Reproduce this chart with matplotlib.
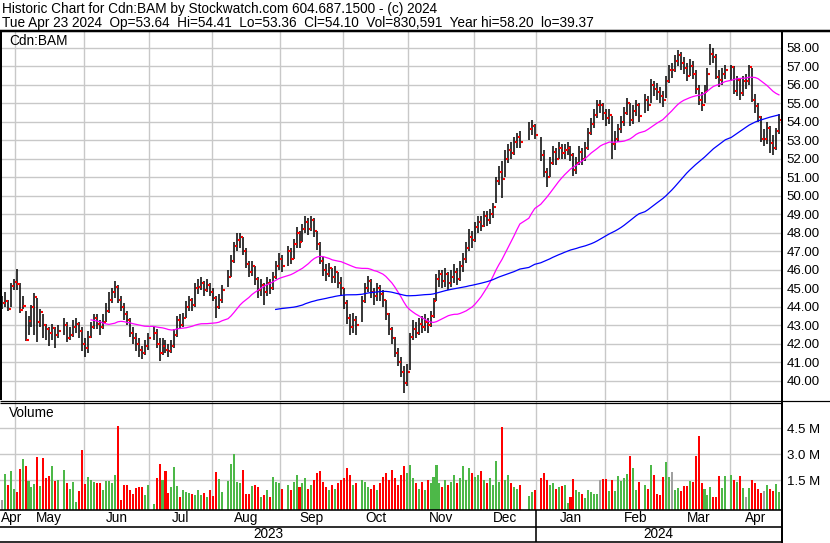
import matplotlib
matplotlib.use("Agg")
import matplotlib.pyplot as plt
import matplotlib.transforms as mtransforms
from matplotlib.lines import Line2D
import numpy as np
import pandas as pd

plt.rcParams['font.family'] = ['Liberation Sans', 'DejaVu Sans']
plt.rcParams['font.size'] = 9

# one slot per weekday, None where the exchange was closed
days = pd.bdate_range("2023-04-24", "2024-04-23")

highs = [
    44.6, 44.8, 44.4, 45.3, 45.5,
    46.05, 45.3, 44.6, 43.8, 43.5,
    44.1, 44.75, 44.5, 43.9, 43.6,
    43.1, 42.9, 43.1, 42.9, 43.0,
    None, 43.4, 43.2, 42.9, 43.3,
    43.4, 43.2, 42.9, 42.3, 42.7,
    43.2, 43.6, 43.6, 43.3, 43.6,
    44.2, 44.8, 45.0, 45.4, 45.2,
    44.6, 44.2, 43.8, 43.4, 42.9,
    42.6, 42.3, 41.9, 42.2, 42.6,
    None, 42.9, 42.8, 42.3, 42.3,
    42.2, 42.0, 42.2, 42.8, 43.5,
    43.6, 43.7, 44.3, 44.6, 44.5,
    45.3, 45.5, 45.6, 45.4, 45.5,
    45.3, 45.0, 44.6, 44.7, 45.2,
    None, 46.0, 46.8, 47.5, 48.0,
    48.0, 47.8, 47.2, 46.5, 46.5,
    46.2, 45.6, 45.5, 45.3, 45.6,
    45.5, 45.9, 46.5, 46.9, 46.8,
    None, 47.3, 47.2, 47.7, 48.3,
    48.1, 48.5, 48.9, 48.8, 48.9,
    48.8, 48.1, 47.5, 46.7, 46.3,
    46.4, 46.1, 46.2, 45.9, 45.6,
    45.0, 44.4, 43.6, 43.7, 43.5,
    None, 44.6, 45.3, 45.7, 45.5,
    45.0, 45.3, 45.2, 44.9, 44.4,
    43.7, 42.9, 42.4, 41.8, 41.3,
    40.8, 40.9, 42.6, 43.3, 43.2,
    43.4, 43.5, 43.6, 43.4, 43.8,
    44.5, 45.8, 46.0, 46.0, 46.1,
    45.9, 46.0, 46.3, 46.1, 46.5,
    46.9, 47.5, 48.2, 48.1, 48.6,
    48.9, 48.9, 49.2, 49.2, 49.3,
    49.6, 51.0, 51.6, 51.9, 52.5,
    52.8, 52.9, 53.2, 53.4, 53.5,
    None, None, 54.0, 54.1, 53.9,
    None, 53.2, 52.5, 51.5, 52.1,
    52.7, 52.6, 52.9, 52.8, 52.8,
    52.9, 52.7, 52.3, 52.1, 52.7,
    52.6, 52.9, 53.7, 54.2, 54.7,
    55.2, 55.2, 55.0, 54.7, 54.7,
    54.3, 53.5, 53.9, 54.3, 54.8,
    55.3, 55.0, 54.9, 55.2, 55.0,
    None, 55.5, 55.4, 56.3, 56.2,
    56.1, 55.9, 55.7, 56.5, 57.1,
    57.2, 57.6, 57.9, 57.8, 57.5,
    57.2, 57.4, 57.3, 56.8, 56.0,
    55.6, 56.0, 56.9, 58.2, 58.0,
    57.7, 56.8, 56.9, 57.1, None,
    57.1, 57.0, 56.5, 56.4, 56.5,
    56.6, 57.1, 56.9, 55.5, 55.0,
    54.3, 53.6, 54.0, 53.8, 53.3,
    53.7, 54.41,
]

lows = [
    43.9, 44.0, 43.8, 44.0, 44.9,
    44.9, 43.7, 43.9, 42.15, 42.5,
    42.9, 42.5, 42.1, 42.9, 42.3,
    42.2, 41.9, 42.2, 41.8, 42.3,
    None, 42.5, 42.1, 42.2, 42.4,
    42.6, 42.3, 41.6, 41.3, 41.5,
    42.3, 42.8, 42.8, 42.5, 42.8,
    43.2, 43.7, 44.2, 44.5, 44.2,
    43.8, 43.3, 43.0, 42.4, 42.0,
    41.6, 41.3, 41.2, 41.4, 41.7,
    None, 42.2, 41.8, 41.1, 41.4,
    41.5, 41.3, 41.5, 41.8, 42.4,
    42.8, 42.9, 43.4, 43.8, 43.8,
    44.0, 44.7, 44.9, 44.6, 44.8,
    44.6, 44.3, 43.4, 43.9, 44.2,
    None, 45.1, 45.6, 46.4, 47.0,
    47.2, 46.8, 46.1, 45.6, 45.7,
    45.2, 44.5, 44.6, 44.1, 44.6,
    44.7, 44.9, 45.5, 46.0, 45.9,
    None, 46.2, 46.3, 46.6, 47.2,
    47.2, 47.5, 48.0, 47.9, 48.1,
    47.8, 47.1, 46.3, 45.7, 45.4,
    45.6, 45.3, 45.3, 45.0, 44.6,
    43.9, 43.1, 42.5, 42.6, 42.5,
    None, 43.2, 44.2, 44.8, 44.5,
    44.1, 44.3, 44.3, 44.0, 43.3,
    42.5, 42.0, 41.3, 40.8, 40.2,
    39.37, 39.7, 40.6, 42.2, 42.3,
    42.5, 42.6, 42.7, 42.6, 42.9,
    43.4, 44.3, 45.1, 45.0, 45.1,
    44.9, 45.1, 45.3, 45.2, 45.4,
    45.9, 46.4, 47.0, 47.2, 47.5,
    48.0, 48.1, 48.3, 48.4, 48.5,
    48.8, 49.6, 50.6, 49.9, 51.0,
    51.8, 52.0, 52.2, 52.6, 52.6,
    None, None, 53.0, 53.3, 53.1,
    None, 51.9, 51.0, 50.5, 51.0,
    51.7, 51.7, 52.0, 52.0, 52.0,
    52.2, 51.9, 51.1, 51.2, 51.7,
    51.7, 51.9, 52.5, 53.3, 53.7,
    54.2, 54.5, 54.1, 53.8, 53.9,
    52.0, 52.5, 52.9, 53.4, 53.8,
    54.4, 53.8, 53.9, 54.3, 54.0,
    None, 54.5, 54.6, 55.0, 55.4,
    55.2, 55.0, 54.8, 55.3, 56.1,
    56.4, 56.7, 57.0, 56.8, 56.6,
    56.2, 56.5, 56.3, 55.5, 54.9,
    54.6, 55.0, 55.6, 57.1, 57.2,
    56.3, 55.9, 56.0, 56.3, None,
    56.2, 55.5, 55.4, 55.2, 55.4,
    55.8, 56.0, 55.1, 54.5, 54.0,
    52.9, 52.7, 52.8, 52.3, 52.2,
    52.5, 53.36,
]

closes = [
    44.2, 44.3, 43.9, 45.15, 45.35,
    45.25, 43.85, 44.05, 42.2, 43.25,
    44.0, 44.55, 43.2, 43.75, 43.0,
    42.8, 42.6, 42.85, 42.5, 42.7,
    None, 43.0, 42.3, 42.5, 42.9,
    43.1, 42.7, 42.0, 41.8, 42.4,
    42.9, 43.4, 43.1, 42.9, 43.2,
    43.8, 44.4, 44.8, 45.1, 44.4,
    44.0, 43.6, 43.3, 42.6, 42.3,
    42.0, 41.7, 41.5, 41.9, 42.3,
    None, 42.6, 42.0, 41.5, 41.9,
    41.7, 41.6, 41.9, 42.5, 43.3,
    43.0, 43.4, 44.0, 44.35, 44.1,
    45.0, 45.1, 45.3, 44.9, 45.2,
    44.8, 44.5, 44.0, 44.4, 44.9,
    None, 45.6, 46.5, 47.3, 47.6,
    47.8, 47.0, 46.3, 45.9, 46.2,
    45.5, 44.9, 45.2, 44.8, 45.3,
    45.0, 45.6, 46.2, 46.6, 46.2,
    None, 47.0, 46.6, 47.4, 48.0,
    47.5, 48.2, 48.6, 48.2, 48.7,
    48.1, 47.4, 46.5, 46.0, 45.8,
    46.1, 45.6, 45.9, 45.3, 45.0,
    44.2, 43.4, 42.9, 43.3, 43.0,
    None, 44.3, 45.0, 45.4, 44.8,
    44.6, 45.0, 44.7, 44.4, 43.6,
    42.8, 42.3, 41.5, 41.0, 40.5,
    39.9, 40.5, 42.4, 42.8, 42.6,
    43.1, 42.9, 43.2, 43.0, 43.5,
    44.3, 45.5, 45.8, 45.4, 45.8,
    45.3, 45.6, 45.9, 45.5, 46.2,
    46.6, 47.2, 47.8, 47.6, 48.3,
    48.6, 48.4, 48.9, 48.7, 49.0,
    49.4, 50.8, 51.3, 50.9, 52.0,
    52.5, 52.3, 52.9, 53.2, 52.9,
    None, None, 53.6, 53.8, 53.3,
    None, 52.2, 51.3, 51.0, 51.8,
    52.4, 52.0, 52.6, 52.3, 52.5,
    52.6, 52.2, 51.4, 51.8, 52.4,
    52.0, 52.6, 53.4, 53.9, 54.4,
    54.9, 54.9, 54.5, 54.2, 54.4,
    52.8, 53.1, 53.6, 54.0, 54.5,
    55.0, 54.1, 54.6, 54.9, 54.3,
    None, 55.2, 54.9, 56.0, 55.8,
    55.6, 55.4, 55.2, 56.2, 56.8,
    56.8, 57.3, 57.6, 57.2, 56.9,
    56.5, 57.0, 56.6, 55.8, 55.2,
    54.9, 55.6, 56.6, 57.7, 57.5,
    56.45, 56.25, 56.6, 56.8, None,
    56.95, 55.7, 56.25, 55.55, 56.2,
    56.2, 56.95, 55.2, 54.85, 54.25,
    53.1, 53.1, 53.65, 52.85, 52.6,
    53.5, 54.1,
]

# millions of shares
volume = [
    0.35, 1.86, 1.22, 2.00, 0.99,
    0.83, 2.15, 2.73, 2.33, 1.45,
    1.10, 1.28, 2.85, 1.16, 2.79,
    1.63, 1.74, 2.33, 1.45, 1.51,
    None, 2.09, 1.34, 0.99, 1.40,
    0.23, 0.87, 3.26, 1.28, 1.69,
    1.51, 1.40, 1.34, 1.34, 0.93,
    1.45, 1.45, 1.34, 1.80, 4.65,
    0.35, 1.22, 1.22, 0.93, 0.70,
    1.05, 1.10, 1.10, 0.64, 1.22,
    None, 0.12, 1.63, 2.44, 1.51,
    2.03, 0.76, 1.10, 2.27, 1.16,
    0.52, 0.93, 0.81, 0.76, 0.70,
    0.64, 0.93, 0.64, 0.76, 0.52,
    0.93, 0.58, 1.98, 1.57, 0.81,
    None, 1.45, 2.44, 3.02, 1.40,
    1.34, 2.09, 0.70, 0.70, 1.16,
    1.22, 1.10, 0.52, 0.64, 0.93,
    0.52, 1.69, 1.40, 1.30, 1.00,
    None, 1.20, 0.90, 1.40, 1.80,
    1.10, 1.30, 1.60, 1.00, 1.20,
    1.50, 1.90, 2.00, 1.40, 1.10,
    0.90, 1.20, 1.00, 1.30, 1.50,
    1.60, 2.20, 1.80, 1.20, 1.30,
    None, 1.50, 1.40, 1.10, 1.00,
    1.20, 0.90, 1.30, 1.70, 1.90,
    1.50, 2.10, 1.60, 1.20, 1.80,
    2.30, 1.90, 2.40, 1.60, 1.30,
    1.00, 1.40, 0.90, 1.50, 1.30,
    1.70, 2.40, 1.30, 1.10, 1.50,
    1.20, 1.40, 1.80, 1.30, 1.60,
    2.30, 1.50, 2.20, 1.90, 1.70,
    1.80, 2.00, 1.50, 1.30, 1.60,
    1.20, 2.60, 1.40, 4.60, 1.50,
    1.80, 1.30, 1.10, 1.00, 1.20,
    None, None, 0.60, 0.80, 0.90,
    None, 1.60, 1.90, 1.50, 1.20,
    1.30, 1.00, 1.10, 1.16, 1.22,
    0.17, 0.52, 1.57, 0.93, 0.81,
    0.70, 0.47, 0.93, 0.81, 0.70,
    0.70, 1.51, 1.57, 1.57, 0.87,
    1.51, 0.87, 1.74, 1.45, 1.63,
    1.86, 2.91, 2.21, 0.93, 1.40,
    None, 1.22, 0.99, 2.38, 1.80,
    0.70, 0.64, 1.69, 2.56, 1.69,
    1.98, 0.93, 1.05, 0.87, 1.16,
    1.16, 1.45, 1.40, 2.91, 4.07,
    1.34, 0.99, 0.64, 1.10, 0.52,
    0.52, 1.74, 1.05, 1.74, None,
    1.80, 1.51, 1.40, 1.74, 1.05,
    0.52, 1.05, 1.51, 1.34, 0.99,
    0.76, 0.87, 1.22, 0.99, 0.87,
    1.28, 0.83,
]

price_ticks = list(range(40, 59))
vol_ticks = [1.5, 3.0, 4.5]

header1 = "Historic Chart for Cdn:BAM by Stockwatch.com 604.687.1500 - (c) 2024"
header2 = ("Tue Apr 23 2024  Op=53.64  Hi=54.41  Lo=53.36  Cl=54.10  "
           "Vol=830,591  Year hi=58.20  lo=39.37")

W, H = 830, 543
fig = plt.figure(figsize=(W / 100, H / 100), dpi=100)


def box(l, t, r, b):
    return [l / W, 1 - b / H, (r - l) / W, (b - t) / H]


def hline(y, x0, x1, lw):
    fig.add_artist(Line2D([x0 / W, x1 / W], [1 - y / H, 1 - y / H], color="black",
                          lw=lw * 0.72, transform=fig.transFigure, solid_capstyle="butt"))


def vline(x, y0, y1, lw):
    fig.add_artist(Line2D([x / W, x / W], [1 - y0 / H, 1 - y1 / H], color="black",
                          lw=lw * 0.72, transform=fig.transFigure, solid_capstyle="butt"))


axp = fig.add_axes(box(0, 32, 781, 400))
axv = fig.add_axes(box(0, 402, 781, 510))

x = np.arange(len(days))
hi = np.array(highs, dtype=float)
lo = np.array(lows, dtype=float)
cl = np.array(closes, dtype=float)
vol = np.array(volume, dtype=float)
ok = ~np.isnan(cl)

# slot i sits at pixel 1.7 + 2.978 * i
step, off = 2.978, 1.7
xlim = (-off / step, (781 - off) / step)

# month boundaries
starts = [i for i in range(len(days)) if i == 0 or days[i].month != days[i - 1].month]
bounds = [i - 0.5 for i in starts[1:]]

for ax in (axp, axv):
    ax.set_xlim(*xlim)
    ax.set_xticks(bounds)
    ax.grid(True, color="#c8c8c8", lw=1.0)
    ax.set_axisbelow(True)
    ax.tick_params(axis="x", length=0, labelbottom=False)
    ax.yaxis.tick_right()
    ax.tick_params(axis="y", length=0, pad=4, labelsize=9.5)
    for sp in ax.spines.values():
        sp.set_visible(False)

# price panel
axp.set_ylim(38.97, 58.865)
axp.set_yticks(price_ticks)
axp.set_yticklabels([f"{v:.2f}" for v in price_ticks])
axp.vlines(x[ok], lo[ok], hi[ok], color="black", lw=1.1)
axp.hlines(cl[ok], x[ok] + 0.3, x[ok] + 1.0, color="#ff0000", lw=1.5)

s = pd.Series(cl[ok], index=x[ok])
ma30 = s.rolling(30).mean()
ma90 = s.rolling(90).mean()
axp.plot(ma30.index, ma30.values, color="#ff00ff", lw=0.9)
axp.plot(ma90.index, ma90.values, color="#0000ff", lw=0.9)

# volume panel
vbot = -0.24
axv.set_ylim(vbot, 6.03)
axv.set_yticks(vol_ticks)
axv.set_yticklabels([f"{v:.1f} M" for v in vol_ticks])
chg = s.diff().values
cols = ["#ff0000" if c < 0 else "#4db848" if c > 0 else "#a0a0a0" for c in chg]
axv.bar(x[ok], vol[ok] - vbot, bottom=vbot, width=0.68, color=cols, linewidth=0)

# texts
fig.text(2 / W, 1 - 9 / H, header1, va="center", ha="left", fontsize=9.8)
fig.text(2 / W, 1 - 23 / H, header2, va="center", ha="left", fontsize=9.8)
fig.text(9 / W, 1 - 41 / H, "Cdn:BAM", va="center", ha="left", fontsize=9.8)
fig.text(9 / W, 1 - 413 / H, "Volume", va="center", ha="left", fontsize=9.8)

tr = mtransforms.blended_transform_factory(axv.transData, fig.transFigure)
ends = starts[1:] + [len(days)]
for a, b in zip(starts, ends):
    lab = days[a].strftime("%b")
    c = (a + b - 1) / 2
    if (c - xlim[0]) * step < 12:
        axv.text(xlim[0] + 0.3, 1 - 518 / H, lab, transform=tr, ha="left", va="center", fontsize=9.8)
    else:
        axv.text(c, 1 - 518 / H, lab, transform=tr, ha="center", va="center", fontsize=9.8)

ysplit = off + step * bounds[[days[i].year for i in starts[1:]].index(2024)]
fig.text(ysplit / 2 / W, 1 - 534.5 / H, "2023", ha="center", va="center", fontsize=9.8)
fig.text((ysplit + 781) / 2 / W, 1 - 534.5 / H, "2024", ha="center", va="center", fontsize=9.8)

# frame lines
hline(30.7, 0, 830, 2.5)
vline(1, 31, 400, 2)
hline(400.5, 0, 830, 1.2)
hline(402.5, 0, 781, 1.2)
vline(781.5, 30, 543, 2)
hline(510, 0, 781, 1.6)
hline(526.5, 0, 781, 1.6)
hline(541.5, 0, 781, 1.6)
vline(ysplit, 510, 541.5, 1.6)

fig.savefig("out.png", dpi=100)
